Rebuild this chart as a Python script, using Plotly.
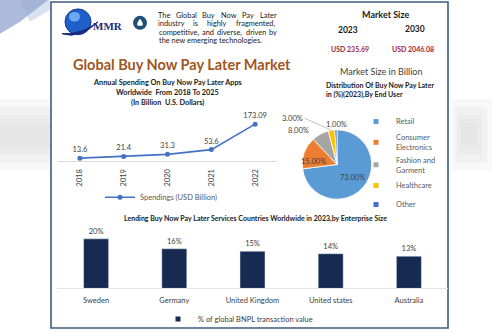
import math
import plotly.graph_objects as go

# ---------------- data ----------------
years = ["2018", "2019", "2020", "2021", "2022"]
spending = [13.6, 21.4, 31.3, 53.6, 173.09]

segments = ["Retail", "Consumer<br>Electronics", "Fashion and<br>Garment", "Healthcare", "Other"]
segment_share = [73.0, 15.0, 8.0, 3.0, 1.0]
segment_colors = ["#5b9bd5", "#ed7d31", "#a5a5a5", "#ffc000", "#4472c4"]

countries = ["Sweden", "Germany", "United Kingdom", "United states", "Australia"]
bnpl_share = [20, 16, 15, 14, 13]

market_years = ["2023", "2030"]
market_values = ["USD 235.69", "USD 2046.08"]

W, H = 500, 334
FONT = "Lato"


def fx(x):
    return x / W


def fy(y):
    return 1 - y / H


fig = go.Figure()

# ---------------- line chart: annual spending ----------------
fig.add_trace(go.Scatter(
    x=years, y=spending, mode="lines+markers+text",
    text=[f"{v:g}" for v in spending], textposition="top center",
    textfont=dict(size=7.5, color="#404040", family=FONT),
    line=dict(color="#4472c4", width=1.6),
    marker=dict(color="#4472c4", size=5),
    name="Spendings (USD Billion)", cliponaxis=False,
    xaxis="x", yaxis="y", legend="legend", showlegend=True,
))

# ---------------- pie: share by end user ----------------
PIE_CX, PIE_CY, PIE_R = 337, 166, 35
fig.add_trace(go.Pie(
    labels=segments, values=segment_share, sort=False, direction="clockwise",
    rotation=0, marker=dict(colors=segment_colors, line=dict(color="white", width=0.8)),
    textinfo="none",
    domain=dict(x=[fx(PIE_CX - PIE_R), fx(PIE_CX + PIE_R)],
                y=[fy(PIE_CY + PIE_R), fy(PIE_CY - PIE_R)]),
    showlegend=False, hoverinfo="label+percent",
))

# pie legend entries (small square keys)
for i, (lab, col) in enumerate(zip(segments, segment_colors)):
    fig.add_trace(go.Scatter(
        x=[None], y=[None], mode="markers", name=lab,
        marker=dict(symbol="square", size=5, color=col),
        legend="legend2", xaxis="x", yaxis="y",
    ))

# ---------------- bar chart: share of global BNPL value ----------------
fig.add_trace(go.Bar(
    x=countries, y=bnpl_share, marker=dict(color="#172a52"),
    texttemplate="%{y}%", textposition="outside",
    textfont=dict(size=7.5, color="#404040", family=FONT),
    cliponaxis=False, xaxis="x2", yaxis="y2", showlegend=False,
))
fig.add_trace(go.Scatter(
    x=[None], y=[None], mode="markers", name="% of global BNPL transaction value",
    marker=dict(symbol="square", size=5, color="#172a52"),
    legend="legend3", xaxis="x2", yaxis="y2",
))

# ---------------- decorative shapes ----------------
shapes = [
    dict(type="path", xref="paper", yref="paper", layer="below",
         path=f"M 0 1 L {fx(48)} 1 L {fx(20)} {fy(22)} L 0 {fy(34)} Z",
         fillcolor="rgba(70,105,175,0.45)", line=dict(width=0)),
    dict(type="path", xref="paper", yref="paper", layer="below",
         path=f"M {fx(20)} 1 L {fx(50)} 1 L {fx(50)} {fy(10)} L {fx(30)} {fy(22)} Z",
         fillcolor="rgba(150,170,210,0.35)", line=dict(width=0)),
]
# soft grey haze either side of the frame
for k in range(4):
    shapes.append(dict(type="rect", xref="paper", yref="paper", layer="below",
                       x0=0, x1=fx(50), y0=fy(172 - k * 8), y1=fy(100 + k * 8),
                       fillcolor="rgba(200,200,200,0.12)", line=dict(width=0)))
    shapes.append(dict(type="rect", xref="paper", yref="paper", layer="below",
                       x0=fx(452 + k * 3), x1=fx(492 - k * 5),
                       y0=fy(172 - k * 8), y1=fy(100 + k * 8),
                       fillcolor="rgba(200,200,200,0.12)", line=dict(width=0)))
shapes += [
    # main frame
    dict(type="rect", xref="paper", yref="paper", layer="below",
         x0=fx(51), x1=fx(448), y0=fy(331), y1=fy(2),
         fillcolor="white", line=dict(color="#3e5b7d", width=1.6)),
    # logo globe
    dict(type="circle", xref="paper", yref="paper",
         x0=fx(65), x1=fx(91), y0=fy(35), y1=fy(9),
         fillcolor="#1f5fc9", line=dict(color="#0d3a8a", width=1)),
    dict(type="circle", xref="paper", yref="paper",
         x0=fx(69), x1=fx(80), y0=fy(22), y1=fy(12),
         fillcolor="rgba(140,200,255,0.7)", line=dict(width=0)),
    dict(type="path", xref="paper", yref="paper",
         path=f"M {fx(62)} {fy(34)} Q {fx(80)} {fy(40)} {fx(98)} {fy(22)} "
              f"Q {fx(82)} {fy(35)} {fx(62)} {fy(34)} Z",
         fillcolor="#1b2a80", line=dict(color="#1b2a80", width=1)),
    # icon next to the paragraph
    dict(type="circle", xref="paper", yref="paper",
         x0=fx(133), x1=fx(147), y0=fy(30), y1=fy(16),
         fillcolor="#1f4e79", line=dict(width=0)),
    dict(type="path", xref="paper", yref="paper",
         path=f"M {fx(140)} {fy(19)} Q {fx(143.5)} {fy(23)} {fx(142.5)} {fy(26)} "
              f"L {fx(137.5)} {fy(26)} Q {fx(136.5)} {fy(23)} {fx(140)} {fy(19)} Z",
         fillcolor="white", line=dict(width=0)),
]


# ---------------- text ----------------
def note(x, y, text, size=7.5, color="#262626", bold=False, anchor="center", family=FONT, **kw):
    t = f"<b>{text}</b>" if bold else text
    d = dict(xref="paper", yref="paper", x=fx(x), y=fy(y), text=t,
             showarrow=False, xanchor=anchor, yanchor="middle",
             font=dict(size=size, color=color, family=family))
    d.update(kw)
    return d


# rough glyph widths (em) used to justify the intro paragraph
GLYPH = {"i": .25, "l": .25, "j": .25, ",": .24, ".": .24, "f": .34, "t": .36, "r": .38,
         "s": .44, "c": .48, "z": .46, "e": .54, "a": .52, "g": .53, "v": .52, "y": .52,
         "k": .53, "x": .51, "m": .86, "w": .79, "T": .58, "G": .71, "B": .66, "N": .77,
         "P": .63, "L": .51}


def text_width(word, size):
    return sum(GLYPH.get(c, .58) for c in word) * size * 1.05


paragraph = ["The Global Buy Now Pay Later",
             "industry is highly fragmented,",
             "competitive, and diverse, driven by",
             "the new emerging technologies."]
PX0, PX1, PSIZE = 157, 277, 7.4

annotations = [
    note(108, 26, "MMR", size=11, color="#1b2a80", bold=True, family="Liberation Serif"),
]
for i, line in enumerate(paragraph):
    y = 15.5 + i * 8.6
    if i == len(paragraph) - 1:
        annotations.append(note(PX0, y, line, size=PSIZE, color="#1a1a1a", anchor="left"))
        continue
    words = line.split()
    widths = [text_width(w, PSIZE) for w in words]
    gap = (PX1 - PX0 - sum(widths)) / (len(words) - 1)
    x = PX0
    for w, ww in zip(words, widths):
        annotations.append(note(x + ww / 2, y, w, size=PSIZE, color="#1a1a1a"))
        x += ww + gap

annotations += [
    note(385, 15, "Market Size", size=9, color="#1a1a1a", bold=True),
    note(348, 30, market_years[0], size=8.5, color="#1a1a1a", bold=True),
    note(415, 29, market_years[1], size=8.5, color="#1a1a1a", bold=True),
    note(350, 49, market_values[0], size=7, color="#a01e3c", bold=True),
    note(413, 49, market_values[1], size=7, color="#a01e3c", bold=True),
    note(381, 72, "Market Size in Billion", size=9, color="#404040"),
    note(182, 65, "Global Buy Now Pay Later Market", size=14.5, color="#a0561d", bold=True),
    note(167, 83.5, "Annual Spending On Buy Now Pay Later Apps", size=7.3, color="#1a1a1a", bold=True),
    note(167, 93.3, "Worldwide  From 2018 To 2025", size=7.3, color="#1a1a1a", bold=True),
    note(167, 103, "(In Billion  U.S. Dollars)", size=7.3, color="#1a1a1a", bold=True),
    note(324, 86, "Distribution Of Buy Now Pay Later", size=7, color="#1a1a1a", bold=True, anchor="left"),
    note(324, 95, "in (%)(2023),By End User", size=7, color="#1a1a1a", bold=True, anchor="left"),
    note(255, 220, "Lending Buy Now Pay Later Services Countries Worldwide in 2023,by Enterprise Size",
         size=7, color="#1a1a1a", bold=True),
]

# pie data labels, placed from each slice's mid-angle
# (radius factor, x offset, y offset, leader line)
label_place = [(0.6, 0, -1, False), (0.72, 0, 6, False), (1.0, -22, -4, False),
               (1.0, -27, -12, True), (1.0, 1, -5, False)]
total = sum(segment_share)
cum = 0.0
for share, (rf, dx, dy, lead) in zip(segment_share, label_place):
    mid = (cum + share / 2) / total * 2 * math.pi
    cum += share
    px = PIE_CX + PIE_R * rf * math.sin(mid)
    py = PIE_CY - PIE_R * rf * math.cos(mid)
    label = f"{share:.2f}%"
    if lead:
        annotations.append(dict(
            xref="paper", yref="paper", x=fx(px), y=fy(py), text=label,
            showarrow=True, arrowhead=0, arrowwidth=0.7, arrowcolor="#a6a6a6",
            ax=dx, ay=dy, xanchor="right", yanchor="middle", standoff=0,
            font=dict(size=7.5, color="#404040", family=FONT)))
    else:
        annotations.append(note(px + dx, py + dy, label, size=7.5, color="#404040"))

fig.update_layout(
    width=W, height=H, margin=dict(l=0, r=0, t=0, b=0),
    paper_bgcolor="white", plot_bgcolor="rgba(0,0,0,0)",
    font=dict(family=FONT, color="#404040", size=7.5),
    shapes=shapes, annotations=annotations,
    bargap=0.68,
    xaxis=dict(domain=[fx(58), fx(277)], type="category", range=[-0.5, 4.5],
               tickangle=-90, ticklabelstandoff=4,
               showline=True, linecolor="#d9d9d9", linewidth=1, showgrid=False,
               ticks="", tickfont=dict(size=7.5, color="#404040"), anchor="y",
               fixedrange=True),
    yaxis=dict(domain=[fy(162.5), fy(119.5)], range=[0, 200], visible=False,
               anchor="x", fixedrange=True),
    xaxis2=dict(domain=[fx(57), fx(448)], type="category", range=[-0.5, 4.5],
                showline=True, ticklabelstandoff=5,
                linecolor="#e3e3e3", linewidth=1, showgrid=False, ticks="",
                tickfont=dict(size=7.5, color="#404040"), anchor="y2", fixedrange=True),
    yaxis2=dict(domain=[fy(291), fy(236)], range=[0, 22], visible=False,
                anchor="x2", fixedrange=True),
    legend=dict(x=fx(100), y=fy(199), xanchor="left", yanchor="middle",
                orientation="h", bgcolor="rgba(0,0,0,0)",
                font=dict(size=7.5, color="#595959")),
    legend2=dict(x=fx(356), y=fy(108), xanchor="left", yanchor="top",
                 orientation="v", bgcolor="rgba(0,0,0,0)",
                 font=dict(size=7.5, color="#595959")),
    legend3=dict(x=fx(158), y=fy(322), xanchor="left", yanchor="middle",
                 orientation="h", bgcolor="rgba(0,0,0,0)",
                 font=dict(size=7.5, color="#404040")),
)

fig.write_html("out.html")
